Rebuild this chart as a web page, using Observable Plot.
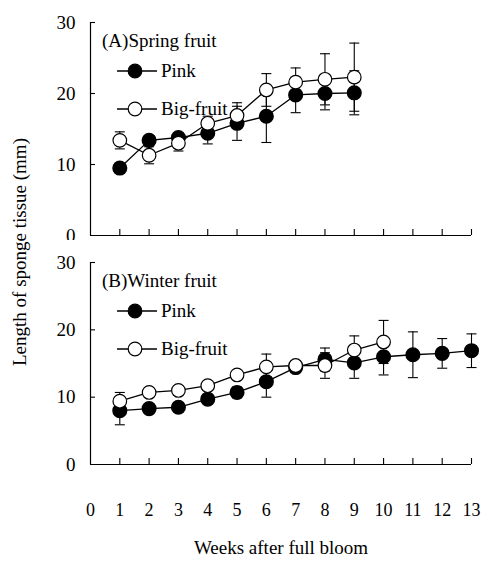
<!DOCTYPE html>
<html>
<head>
<meta charset="utf-8">
<script src="https://cdn.jsdelivr.net/npm/d3@7"></script>
<script src="https://cdn.jsdelivr.net/npm/@observablehq/plot@0.6"></script>
<style>
  html, body { margin: 0; padding: 0; background: #fff; }
  #chart { position: relative; width: 484px; height: 561px; background: #fff; font-family: "Liberation Serif", "Times New Roman", Times, serif; }
  #chart svg { position: absolute; left: 0; overflow: visible; }
  #chart svg text { font-family: "Liberation Serif", "Times New Roman", Times, serif !important; }
  #ytitle { position: absolute; left: 0; top: 0; }
</style>
</head>
<body>
<div id="chart"></div>
<script>
// ---- data ----
const weeks = [0,1,2,3,4,5,6,7,8,9,10,11,12,13];
const yTicks = [0,10,20,30];

const springWeeks = [1,2,3,4,5,6,7,8,9];
const springPink = [9.5,13.4,13.8,14.4,15.8,16.8,19.8,20.0,20.1];
const springPinkErr = [0.7,0.6,0.5,1.5,2.4,3.7,2.5,2.3,3.1];
const springBig = [13.4,11.3,13.0,15.8,16.9,20.5,21.6,22.0,22.3];
const springBigErr = [1.2,1.2,1.1,1.0,1.8,2.3,2.0,3.6,4.8];

const winterPinkWeeks = [1,2,3,4,5,6,7,8,9,10,11,12,13];
const winterPink = [8.0,8.3,8.5,9.7,10.7,12.3,14.4,15.6,15.1,16.0,16.3,16.5,16.9];
const winterPinkErr = [2.1,0.6,0.7,0.6,0.8,2.3,0.6,1.7,2.3,2.7,3.4,2.2,2.5];
const winterBigWeeks = [1,2,3,4,5,6,7,8,9,10];
const winterBig = [9.4,10.7,11.0,11.7,13.3,14.5,14.7,14.7,17.0,18.2];
const winterBigErr = [1.3,0.5,0.5,0.5,0.6,1.9,0.6,1.9,2.1,3.2];

const seriesNames = ["Pink", "Big-fruit"];
const panelTitles = ["(A)Spring fruit", "(B)Winter fruit"];
const xTitle = "Weeks after full bloom";
const yTitle = "Length of sponge tissue (mm)";

// ---- helpers ----
function rows(ws, vals, errs, series) {
  return ws.map((w, i) => ({week: w, value: vals[i], lo: vals[i] - errs[i], hi: vals[i] + errs[i], series}));
}
const cap = { draw(ctx) { ctx.moveTo(-5, 0); ctx.lineTo(5, 0); } };
const FONT = "Liberation Serif, Times New Roman, Times, serif";
const blank = () => "";

function panel({pink, big, height, marginTop, marginBottom, showLabels}) {
  const marks = [
    Plot.ruleX([0], {stroke: "black", strokeWidth: 1.2}),
    Plot.ruleY([0], {stroke: "black", strokeWidth: 1.2}),
    Plot.axisX(weeks.slice(1), {tickSize: 6, dy: -6, tickFormat: blank, label: null, stroke: "black", strokeWidth: 1.1}),
    Plot.axisY(yTicks.slice(1), {tickSize: 5, dx: 5, tickFormat: blank, label: null, stroke: "black", strokeWidth: 1.1}),
    Plot.axisY(yTicks, {tickSize: 0, tickPadding: 15, fontSize: 19, fill: "black", label: null}),
  ];
  if (showLabels) {
    marks.push(Plot.axisX(weeks, {tickSize: 0, tickPadding: 39, fontSize: 18, fill: "black", label: null}));
    marks.push(Plot.text([xTitle], {frameAnchor: "bottom", dy: 89, fontSize: 19, fill: "black"}));
  }
  for (const d of [pink, big]) {
    marks.push(Plot.ruleX(d, {x: "week", y1: "lo", y2: "hi", stroke: "black", strokeWidth: 1.1}));
    marks.push(Plot.dot(d, {x: "week", y: "hi", symbol: cap, stroke: "black", strokeWidth: 1.1, fill: "none"}));
    marks.push(Plot.dot(d, {x: "week", y: "lo", symbol: cap, stroke: "black", strokeWidth: 1.1, fill: "none"}));
  }
  marks.push(Plot.line(pink, {x: "week", y: "value", stroke: "black", strokeWidth: 1.3}));
  marks.push(Plot.line(big, {x: "week", y: "value", stroke: "black", strokeWidth: 1.3}));
  marks.push(Plot.dot(pink, {x: "week", y: "value", r: 6.8, fill: "black", stroke: "black"}));
  marks.push(Plot.dot(big, {x: "week", y: "value", r: 6.8, fill: "white", stroke: "black", strokeWidth: 1.2}));
  return Plot.plot({
    width: 484, height, marginTop, marginBottom, marginLeft: 90, marginRight: 13,
    x: {domain: [0, 13], axis: null},
    y: {domain: [0, 30], axis: null},
    style: {fontFamily: FONT, color: "black", background: "white", overflow: "visible"},
    marks
  });
}

function legend(svg, title, top) {
  const s = d3.select(svg);
  const g = s.append("g").attr("fill", "black").attr("text-anchor", "start");
  g.append("text").attr("x", 102).attr("y", top + 25).attr("font-size", 19).attr("text-anchor", "start").text(title);
  const items = [{name: seriesNames[0], fill: "black", dy: 49}, {name: seriesNames[1], fill: "white", dy: 87}];
  for (const it of items) {
    const y = top + it.dy;
    g.append("line").attr("x1", 117).attr("x2", 157).attr("y1", y).attr("y2", y).attr("stroke", "black").attr("stroke-width", 1.3);
    g.append("circle").attr("cx", 135).attr("cy", y).attr("r", 6.8).attr("fill", it.fill).attr("stroke", "black").attr("stroke-width", 1.2);
    g.append("text").attr("x", 161).attr("y", y + 6).attr("font-size", 19).attr("text-anchor", "start").text(it.name);
  }
}

const chart = document.getElementById("chart");

const pA = panel({
  pink: rows(springWeeks, springPink, springPinkErr, seriesNames[0]),
  big: rows(springWeeks, springBig, springBigErr, seriesNames[1]),
  height: 250, marginTop: 22, marginBottom: 15, showLabels: false
});
pA.style.top = "0px";
legend(pA, panelTitles[0], 22);
chart.appendChild(pA);

const pB = panel({
  pink: rows(winterPinkWeeks, winterPink, winterPinkErr, seriesNames[0]),
  big: rows(winterBigWeeks, winterBig, winterBigErr, seriesNames[1]),
  height: 321, marginTop: 22, marginBottom: 97, showLabels: true
});
pB.style.top = "240px";
legend(pB, panelTitles[1], 22);
chart.appendChild(pB);

// y-axis title
const ns = "http://www.w3.org/2000/svg";
const ysvg = document.createElementNS(ns, "svg");
ysvg.setAttribute("width", 40); ysvg.setAttribute("height", 561);
ysvg.setAttribute("id", "ytitle");
const yt = document.createElementNS(ns, "text");
yt.setAttribute("transform", "translate(26,252) rotate(-90)");
yt.setAttribute("text-anchor", "middle");
yt.setAttribute("font-size", 19);
yt.textContent = yTitle;
ysvg.appendChild(yt);
chart.appendChild(ysvg);
</script>
</body>
</html>
